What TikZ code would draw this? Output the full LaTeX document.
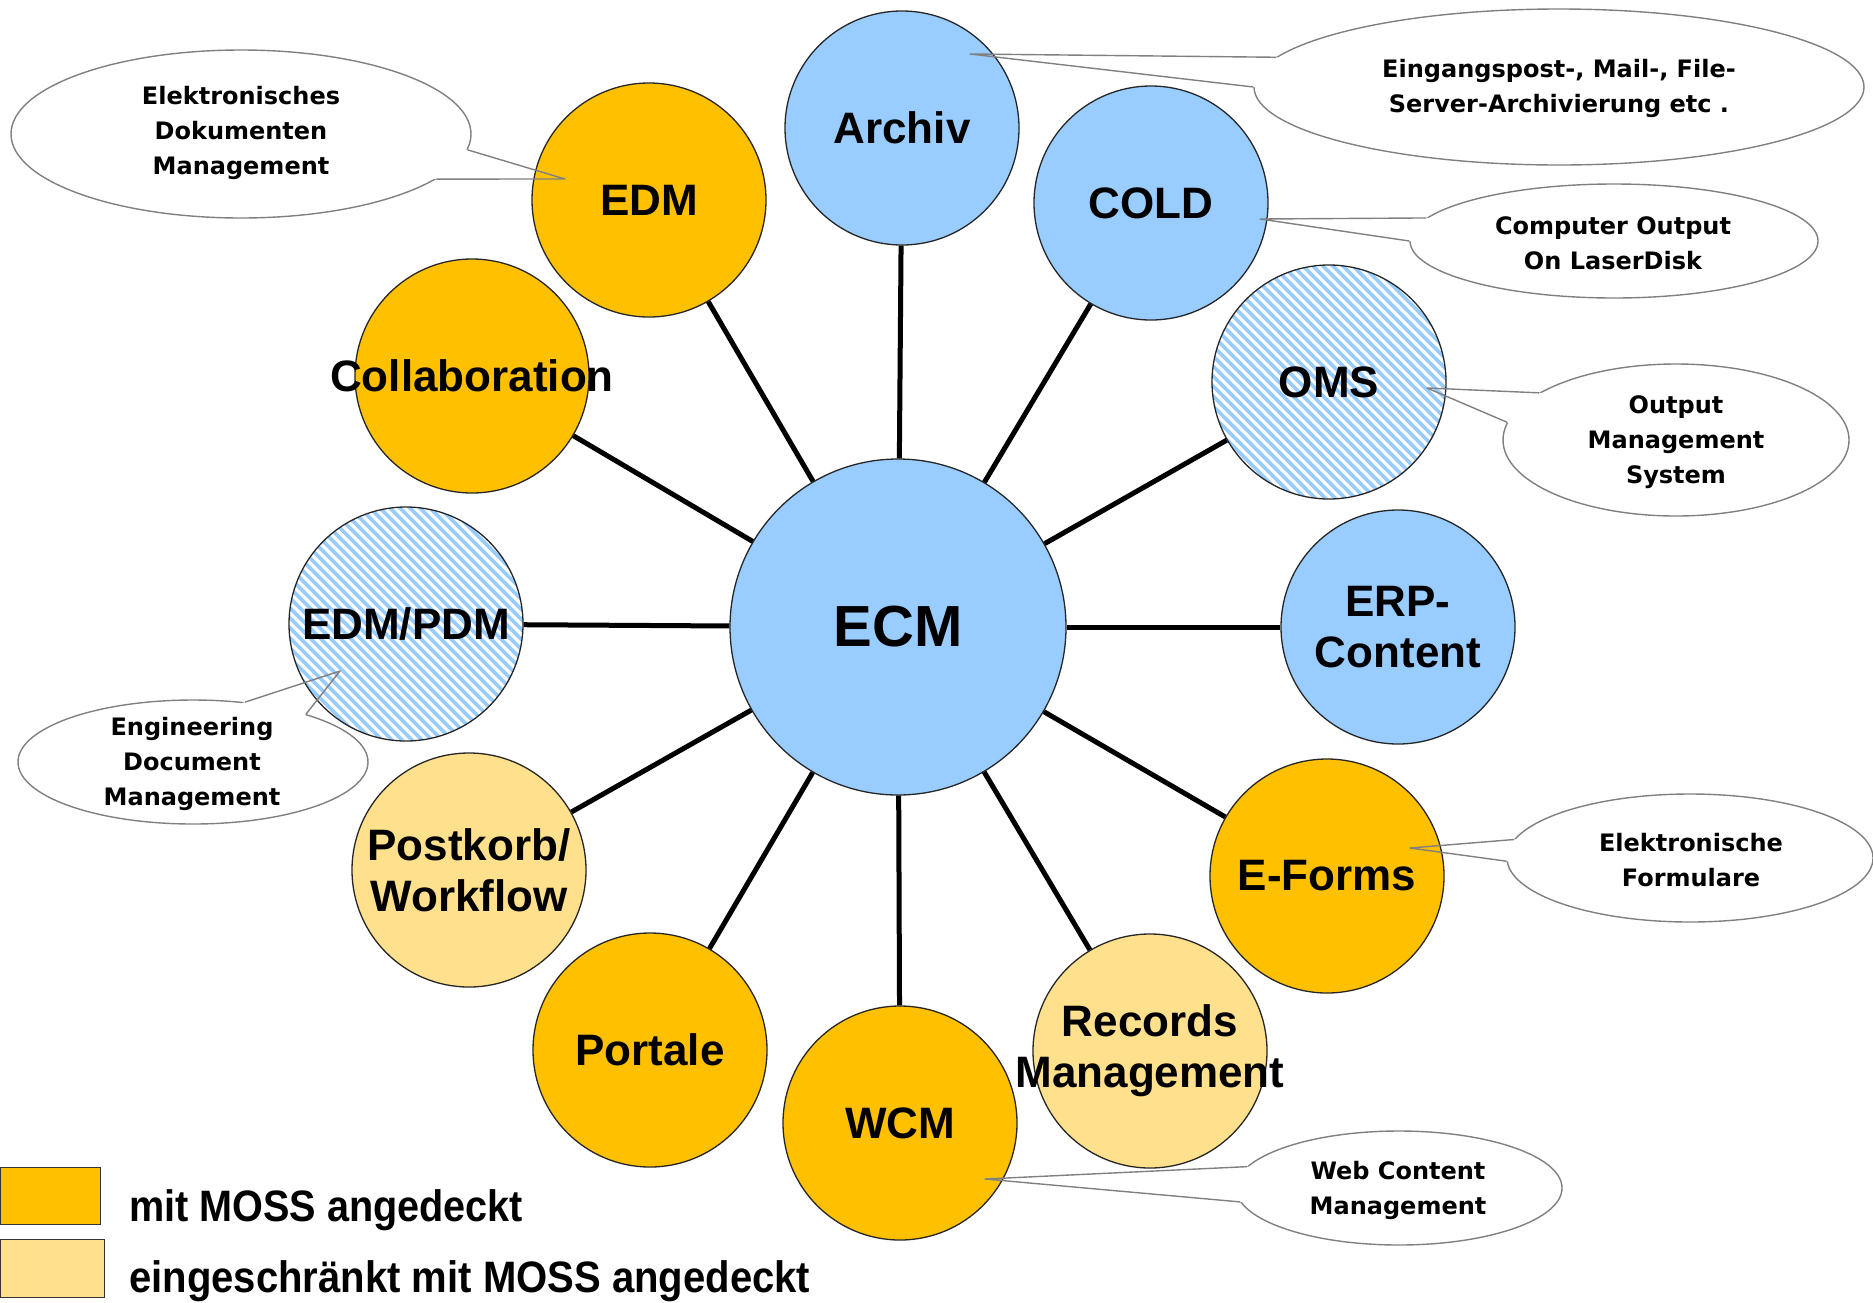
\documentclass[tikz,border=0pt]{standalone}
\usepackage{fontspec}
\usepackage{graphicx}
\setmainfont{Liberation Sans}
\newfontfamily\callfont{DejaVu Sans}
\usetikzlibrary{shapes.geometric,calc}
\definecolor{ecmblue}{HTML}{99CCFF}
\definecolor{mossorange}{HTML}{FFC000}
\definecolor{mosslight}{HTML}{FFE08C}
\definecolor{hatchblue}{HTML}{99CCFF}
\definecolor{calloutgray}{HTML}{808080}
\begin{document}
\begin{tikzpicture}[x=1pt,y=-1pt,
  bubble/.style={circle, draw=black!85, line width=1.3pt, minimum size=234pt, inner sep=0pt},
  bluebub/.style={bubble, fill=ecmblue},
  orangebub/.style={bubble, fill=mossorange},
  lightbub/.style={bubble, fill=mosslight},
  hatchbub/.style={bubble, fill=white, path picture={
     \foreach \k in {-20,...,20}
       \draw[hatchblue, line width=3.6pt] ([xshift=\k*10pt-160pt, yshift=160pt]path picture bounding box.center) -- ++(320pt,-320pt);}},
  lbl/.style={font=\fontsize{44}{51}\selectfont\bfseries, align=center, inner sep=0pt},
  conn/.style={line width=5pt, black},
  callout/.style={ellipse, draw=calloutgray, fill=white, line width=1.4pt, inner sep=0pt},
  tail/.style={draw=calloutgray, line width=1.4pt, line join=round},
  calltext/.style={font=\callfont\bfseries\fontsize{24}{35}\selectfont, align=center, inner sep=0pt},
  legendbox/.style={draw=black!80, line width=1.3pt, inner sep=0pt, anchor=north west},
  legendtext/.style={font=\fontsize{44}{50}\selectfont\bfseries, anchor=base west, inner sep=0pt}
]
\useasboundingbox (0,0) rectangle (1873,1302);

% ring circles
\node[bluebub] (archiv) at (902,128) {};
\node[bluebub] (cold) at (1151,203) {};
\node[hatchbub] (oms) at (1329,382) {};
\node[bluebub] (erp) at (1398,627) {};
\node[orangebub] (eforms) at (1327,876) {};
\node[lightbub] (records) at (1150,1051) {};
\node[orangebub] (wcm) at (900,1123) {};
\node[orangebub] (portale) at (650,1050) {};
\node[lightbub] (postkorb) at (469,870) {};
\node[hatchbub] (edmpdm) at (406,624) {};
\node[orangebub] (collab) at (472,376) {};
\node[orangebub] (edm) at (649,200) {};
\node[bluebub, minimum size=336pt] (ecm) at (898,627) {};

% connectors
\foreach \n in {archiv,cold,oms,erp,eforms,records,wcm,portale,postkorb,edmpdm,collab,edm}
  \draw[conn] (ecm) -- (\n);

% labels
\node[lbl, font=\fontsize{58}{66}\selectfont\bfseries] (ecmT) at (ecm) {ECM};
\node[lbl] (archivT) at (archiv) {Archiv};
\node[lbl] (coldT) at (cold) {COLD};
\node[lbl] (omsT) at (oms) {OMS};
\node[lbl] (erpT) at (erp) {ERP-\\Content};
\node[lbl] (eformsT) at (eforms) {E-Forms};
\node[lbl] (recordsT) at (records) {Records\\Management};
\node[lbl] (wcmT) at (wcm) {WCM};
\node[lbl] (portaleT) at (portale) {Portale};
\node[lbl] (postkorbT) at (postkorb) {Postkorb/\\Workflow};
\node[lbl] (edmpdmT) at (edmpdm) {EDM/PDM};
\node[lbl] (collabT) at (collab) {Collaboration};
\node[lbl] (edmT) at (edm) {EDM};

% callouts
\node[callout, minimum width=610pt, minimum height=156pt] (c1) at (1559,87) {};
\node[callout, minimum width=460pt, minimum height=168pt] (c2) at (241,134) {};
\node[callout, minimum width=408pt, minimum height=114pt] (c3) at (1614,241) {};
\node[callout, minimum width=346pt, minimum height=152pt] (c4) at (1676,440) {};
\node[callout, minimum width=350pt, minimum height=124pt] (c5) at (193,762) {};
\node[callout, minimum width=366pt, minimum height=128pt] (c6) at (1690,858) {};
\node[callout, minimum width=326pt, minimum height=114pt] (c7) at (1399,1188) {};

\coordinate (c1tip) at (970,54);
\coordinate (c2tip) at (565,179);
\coordinate (c3tip) at (1260,219);
\coordinate (c4tip) at (1427,388);
\coordinate (c5tip) at (340,671);
\coordinate (c6tip) at (1410,848);
\coordinate (c7tip) at (985,1179);

\coordinate (c1a) at (c1.174); \coordinate (c1b) at (c1.180);
\coordinate (c2a) at (c2.356); \coordinate (c2b) at (c2.347);
\coordinate (c3a) at (c3.173); \coordinate (c3b) at (c3.180);
\coordinate (c4a) at (c4.161); \coordinate (c4b) at (c4.174);
\coordinate (c5a) at (c5.49);  \coordinate (c5b) at (c5.23);
\coordinate (c6a) at (c6.174); \coordinate (c6b) at (c6.181);
\coordinate (c7a) at (c7.172); \coordinate (c7b) at (c7.185);

\foreach \c in {c1,c2,c3,c4,c5,c6,c7}{
  \fill[white] ($(\c a)!-4pt!(\c tip)$) -- ($(\c a)!0.3!(\c tip)$) -- ($(\c b)!0.3!(\c tip)$) -- ($(\c b)!-4pt!(\c tip)$) -- cycle;
  \draw[tail] (\c a) -- (\c tip) -- (\c b);
}

\node[calltext] (c1T) at (1559,88) {Eingangspost-, Mail-, File-\\Server-Archivierung etc .};
\node[calltext] (c2T) at (241,133) {Elektronisches\\Dokumenten\\Management};
\node[calltext] (c3T) at (1613,243) {Computer Output\\On LaserDisk};
\node[calltext] (c4T) at (1676,442) {Output\\Management\\System};
\node[calltext] (c5T) at (192,764) {Engineering\\Document\\Management};
\node[calltext] (c6T) at (1691,860) {Elektronische\\Formulare};
\node[calltext] (c7T) at (1398,1190) {Web Content\\Management};

% legend
\node[legendbox, fill=mossorange, minimum width=100pt, minimum height=57pt] (leg1) at (0,1167) {};
\node[legendbox, fill=mosslight, minimum width=104pt, minimum height=58pt] (leg2) at (0,1239) {};
\node[legendtext] (leg1T) at (129,1221) {\resizebox{394pt}{\height}{mit MOSS angedeckt}};
\node[legendtext] (leg2T) at (129,1292) {\resizebox{681pt}{\height}{eingeschränkt mit MOSS angedeckt}};
\end{tikzpicture}
\end{document}
